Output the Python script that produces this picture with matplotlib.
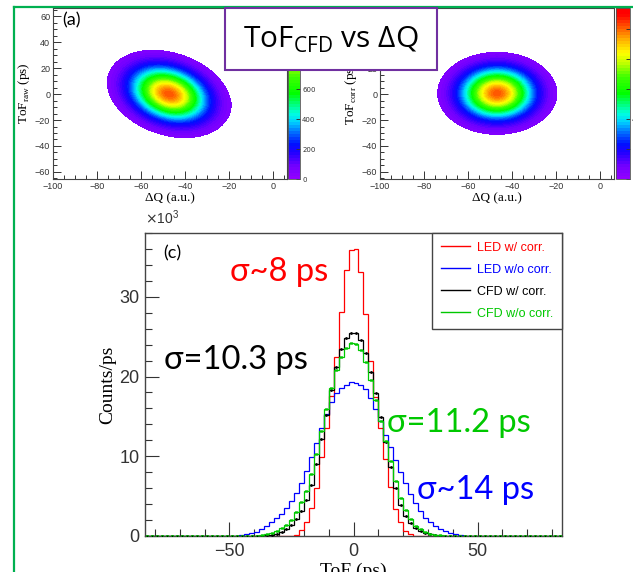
import numpy as np
import matplotlib
matplotlib.use('Agg')
import matplotlib.pyplot as plt
from matplotlib.cm import ScalarMappable
from matplotlib.colors import LinearSegmentedColormap, ListedColormap, Normalize
from matplotlib.lines import Line2D
from matplotlib.patches import Rectangle
from matplotlib.ticker import MultipleLocator

# ---- 2D maps: counts per cell (rows top -> bottom) ----
dq_centers = [-78, -72, -66, -60, -54, -48, -42, -36, -30, -24, -18]
tof_centers = [36, 30, 24, 18, 12, 6, 0, -6, -12, -18, -24, -30, -36]

counts_raw = [
    [2, 6, 13, 20, 21, 16, 8, 3, 1, 0, 0],
    [5, 16, 37, 62, 72, 59, 34, 14, 4, 1, 0],
    [9, 33, 84, 152, 192, 171, 106, 46, 14, 3, 1],
    [14, 54, 151, 295, 405, 391, 264, 125, 42, 10, 2],
    [16, 71, 213, 452, 674, 704, 516, 266, 96, 24, 4],
    [15, 72, 237, 546, 882, 1000, 795, 444, 173, 48, 9],
    [12, 59, 208, 520, 910, 1119, 965, 584, 248, 74, 15],
    [7, 37, 143, 389, 739, 986, 923, 606, 279, 90, 21],
    [3, 19, 78, 230, 473, 685, 695, 496, 247, 87, 21],
    [1, 7, 34, 107, 239, 375, 413, 319, 173, 66, 18],
    [0, 2, 11, 39, 95, 162, 193, 162, 95, 39, 11],
    [0, 1, 3, 11, 30, 55, 71, 65, 41, 19, 6],
    [0, 0, 1, 3, 7, 15, 21, 20, 14, 7, 2],
]

counts_corr = [
    [0, 1, 2, 6, 11, 14, 12, 8, 3, 1, 0],
    [0, 3, 9, 24, 43, 54, 48, 30, 13, 4, 1],
    [1, 8, 28, 72, 130, 164, 146, 91, 40, 12, 3],
    [3, 18, 66, 169, 304, 385, 342, 214, 94, 29, 6],
    [6, 33, 121, 309, 557, 704, 626, 391, 172, 53, 11],
    [9, 47, 172, 441, 793, 1003, 892, 557, 245, 75, 16],
    [10, 52, 191, 489, 880, 1114, 990, 618, 272, 84, 18],
    [9, 45, 165, 422, 761, 962, 855, 534, 235, 72, 16],
    [6, 30, 111, 284, 512, 648, 576, 360, 158, 49, 11],
    [3, 16, 58, 149, 268, 339, 302, 188, 83, 26, 6],
    [1, 7, 24, 61, 110, 139, 123, 77, 34, 10, 2],
    [0, 2, 8, 19, 35, 44, 39, 24, 11, 3, 1],
    [0, 1, 2, 5, 9, 11, 10, 6, 3, 1, 0],
]
colz_ticks = [0, 200, 400, 600, 800, 1000]

# ---- ToF histograms, 2 ps bins from -84 to 84 ps, counts/ps in units of 1e3 ----
tof_edges = np.arange(-84, 85, 2)

led_corr = [0.0] * 28 + [
    0, 0.05, 0.15, 0.7, 1.7, 3.5, 6.0, 9.9, 13.6, 17.5, 22.4, 28.1, 33.4, 35.9,
    36.0, 33.1, 27.9, 22.0, 17.4, 13.5, 9.6, 6.1, 3.4, 1.7, 0.6, 0.2, 0.05, 0,
] + [0.0] * 28

led_nocorr = [0.0] * 17 + [
    0, 0.03, 0.1, 0.2, 0.35, 0.55, 0.85, 1.25, 1.75, 2.3, 2.8, 3.5, 4.4,
    5.4, 6.7, 8.1, 9.9, 11.7, 13.6, 15.3, 16.8, 17.9, 18.6, 19.0, 19.3,
    19.2, 18.9, 18.4, 17.3, 15.9, 14.4, 12.7, 11.1, 9.5, 8.0, 6.6, 5.3,
    4.1, 3.1, 2.3, 1.7, 1.2, 0.9, 0.6, 0.4, 0.2, 0.1, 0.05, 0.02, 0,
] + [0.0] * 17

cfd_corr = [0.0] * 21 + [
    0, 0.01, 0.03, 0.08, 0.15, 0.3, 0.55, 0.9, 1.4, 2.1, 3.1, 4.5, 6.4, 9.0,
    12.2, 15.2, 18.3, 21.2, 23.4, 24.8, 25.5,
    25.4, 24.6, 23.0, 20.6, 17.9, 14.9, 11.8, 8.6, 6.0, 3.9, 2.5, 1.6, 1.0,
    0.6, 0.35, 0.2, 0.1, 0.04, 0.02, 0.01, 0,
] + [0.0] * 21

cfd_nocorr = [0.0] * 21 + [
    0, 0.05, 0.1, 0.2, 0.35, 0.6, 0.95, 1.4, 2.0, 3.0, 4.3, 5.7, 7.8, 10.3,
    13.2, 15.9, 18.6, 20.8, 22.5, 23.6, 24.2,
    24.1, 23.3, 21.8, 19.6, 17.0, 14.4, 11.9, 9.4, 6.9, 4.8, 3.2, 2.1, 1.3,
    0.85, 0.5, 0.3, 0.15, 0.08, 0.03, 0.01, 0,
] + [0.0] * 21

series_labels = ['LED w/ corr.', 'LED w/o corr.', 'CFD w/ corr.', 'CFD w/o corr.']
series_colors = ['#ff0000', '#0000ff', '#000000', '#00c800']

W, H = 633, 572
SANS = 'Liberation Sans'
SERIF = 'Liberation Serif'
CALLOUT = ['Lato', 'Open Sans', 'DejaVu Sans']
TICK_C = '#333333'


def px_rect(x0, y0, x1, y1):
    return [x0 / W, 1 - y1 / H, (x1 - x0) / W, (y1 - y0) / H]


stops = [(0.0, '#9000ff'), (0.07, '#7000ff'), (0.15, '#2000ff'), (0.20, '#0010ff'),
         (0.27, '#0070ff'), (0.33, '#00d0ff'), (0.38, '#00ffe0'), (0.45, '#00ff60'),
         (0.50, '#00ff00'), (0.60, '#40ff00'), (0.68, '#c0ff00'), (0.74, '#ffff00'),
         (0.82, '#ffb000'), (0.90, '#ff5000'), (0.97, '#ff0000'), (1.0, '#ff0000')]
palette = LinearSegmentedColormap.from_list('root_pretty', stops, N=57)
img_colors = palette(np.linspace(0, 1, 57))
img_colors[:2] = (1, 1, 1, 1)
img_cmap = ListedColormap(img_colors)
img_cmap.set_under('white')
norm = Normalize(0, 1140)

fig = plt.figure(figsize=(W / 100, H / 100), dpi=100)


def draw_map(ax, cax, grid, ylabel):
    dx = (dq_centers[1] - dq_centers[0]) / 2
    dy = (tof_centers[0] - tof_centers[1]) / 2
    extent = (dq_centers[0] - dx, dq_centers[-1] + dx,
              tof_centers[-1] - dy, tof_centers[0] + dy)
    ax.imshow(np.array(grid, dtype=float), extent=extent, origin='upper',
              cmap=img_cmap, norm=norm, interpolation='bicubic',
              interpolation_stage='data', aspect='auto')
    ax.set_xlim(-100, 6.5)
    ax.set_ylim(-65.5, 66.5)
    ax.xaxis.set_major_locator(MultipleLocator(20))
    ax.xaxis.set_minor_locator(MultipleLocator(5))
    ax.yaxis.set_major_locator(MultipleLocator(20))
    ax.yaxis.set_minor_locator(MultipleLocator(5))
    ax.tick_params(which='both', direction='in', top=False, right=False,
                   colors=TICK_C, width=0.7, labelsize=6.5, pad=2)
    ax.tick_params(which='major', length=6)
    ax.tick_params(which='minor', length=3)
    for lab in ax.get_xticklabels() + ax.get_yticklabels():
        lab.set_fontfamily(SANS)
    for sp in ax.spines.values():
        sp.set_color('#444444')
        sp.set_linewidth(0.8)
    ax.set_xlabel('ΔQ (a.u.)', fontfamily=SERIF, fontsize=9.5, labelpad=1)
    ax.set_ylabel(ylabel, fontfamily=SERIF, fontsize=9.5, labelpad=2)

    cb = fig.colorbar(ScalarMappable(norm=norm, cmap=palette), cax=cax)
    cb.set_ticks(colz_ticks)
    cb.outline.set_edgecolor('#555555')
    cb.outline.set_linewidth(0.6)
    cax.tick_params(direction='in', length=3, width=0.7, labelsize=5,
                    colors=TICK_C, pad=1.5)


ax_a = fig.add_axes(px_rect(53, 8, 287, 179))
cax_a = fig.add_axes(px_rect(287.5, 8, 300, 179))
draw_map(ax_a, cax_a, counts_raw, r'ToF$_{\mathregular{raw}}$ (ps)')
ax_a.text(0.04, 0.93, '(a)', transform=ax_a.transAxes, fontsize=13,
          fontfamily=CALLOUT, va='center')

ax_b = fig.add_axes(px_rect(380, 8, 614, 179))
cax_b = fig.add_axes(px_rect(616, 8, 630, 179))
draw_map(ax_b, cax_b, counts_corr, r'ToF$_{\mathregular{corr}}$ (ps)')

# ---- ToF distributions ----
ax = fig.add_axes(px_rect(145, 233, 562, 536))
centers = (tof_edges[:-1] + tof_edges[1:]) / 2
hists = [led_corr, led_nocorr, cfd_corr, cfd_nocorr]
for i in [1, 0, 2, 3]:
    ax.stairs(hists[i], tof_edges, color=series_colors[i], lw=0.9, zorder=3 + i)
ax.plot(centers, cfd_corr, ls='none', marker='.', ms=2.0, color='k', zorder=4)
ax.plot(centers, cfd_nocorr, ls='none', marker='s', ms=1.8, mfc='none',
        mew=0.5, color=series_colors[3], zorder=6)

ax.set_xlim(-84, 84)
ax.set_ylim(0, 38)
ax.xaxis.set_major_locator(MultipleLocator(50))
ax.xaxis.set_minor_locator(MultipleLocator(10))
ax.yaxis.set_major_locator(MultipleLocator(10))
ax.yaxis.set_minor_locator(MultipleLocator(2))
ax.tick_params(which='both', direction='in', top=False, right=False,
               colors=TICK_C, width=0.8, labelsize=13)
ax.tick_params(which='major', length=10)
ax.tick_params(which='minor', length=5)
ax.tick_params(axis='y', pad=4)
ax.tick_params(axis='x', pad=5)
for lab in ax.get_xticklabels() + ax.get_yticklabels():
    lab.set_fontfamily(SANS)
for sp in ax.spines.values():
    sp.set_color('#444444')
    sp.set_linewidth(1.0)
ax.set_xlabel('ToF (ps)', fontfamily=SERIF, fontsize=14, labelpad=2)
ax.set_ylabel('Counts/ps', fontfamily=SERIF, fontsize=14, labelpad=2)
ax.text(0.0, 1.02, r'$\times$10$^{\mathregular{3}}$', transform=ax.transAxes,
        fontsize=10, fontfamily=SANS, color=TICK_C, va='bottom')
ax.text(-76.6, 35.5, '(c)', fontsize=13, fontfamily=CALLOUT, va='center')

leg_handles = [Line2D([], [], color=c, lw=1.0) for c in series_colors]
leg = ax.legend(leg_handles, series_labels, loc='upper right',
                bbox_to_anchor=(1.0, 1.0), borderaxespad=0, frameon=True,
                fancybox=False, edgecolor='#444444', framealpha=1,
                prop={'family': SANS, 'size': 9}, labelcolor=series_colors,
                handlelength=2.3, handletextpad=0.6, labelspacing=0.8,
                borderpad=0.7)
leg.get_frame().set_linewidth(1.0)

callout_kw = dict(fontfamily=CALLOUT, fontsize=23.5, va='baseline', ha='left', zorder=10)
ax.text(-49.9, 32.0, 'σ~8 ps', color='#ff0000', **callout_kw)
ax.text(-76.2, 20.9, 'σ=10.3 ps', color='#000000', **callout_kw)
ax.text(13.6, 13.0, 'σ=11.2 ps', color='#00c800', **callout_kw)
ax.text(25.4, 4.7, 'σ~14 ps', color='#0000ff', **callout_kw)

# ---- title box and slide frame ----
fig.add_artist(Rectangle((225 / W, 1 - 70 / H), 212 / W, 62 / H,
                         transform=fig.transFigure, facecolor='white',
                         edgecolor='#7030a0', lw=1.5, zorder=20))
fig.text(330.5 / W, 1 - 40 / H, r'ToF$_{\mathregular{CFD}}$ vs ΔQ', fontsize=21.5,
         fontfamily='Open Sans', ha='center', va='center', zorder=21)
fig.add_artist(Line2D([14 / W, 14 / W], [0, 1 - 6.5 / H], color='#00b050',
                      lw=1.6, transform=fig.transFigure, zorder=19))
fig.add_artist(Line2D([14 / W, 1], [1 - 6.5 / H, 1 - 6.5 / H], color='#00b050',
                      lw=1.6, transform=fig.transFigure, zorder=19))

fig.savefig('out.png', dpi=100)
